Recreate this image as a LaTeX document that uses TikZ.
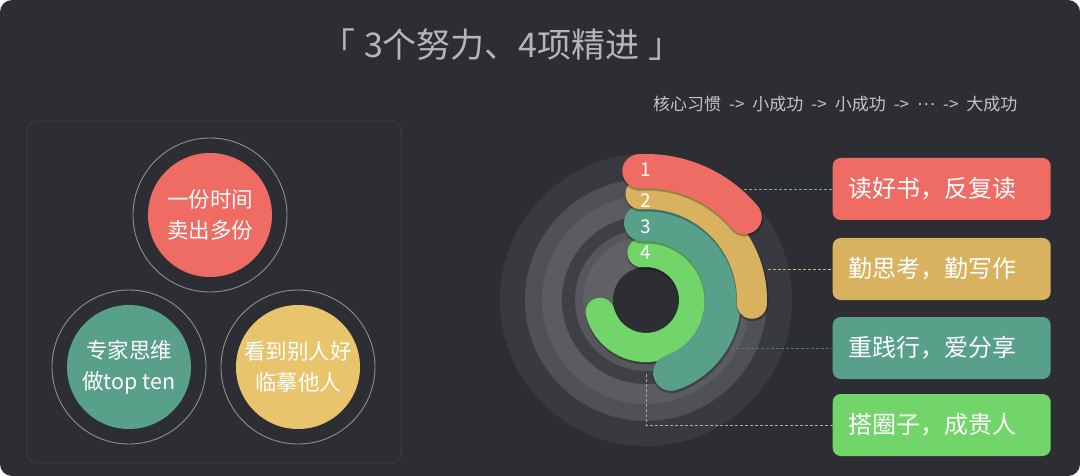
\documentclass[tikz,border=0pt]{standalone}
\usepackage{fontspec}
\setmainfont{Noto Sans CJK SC}
\usetikzlibrary{calc}
\definecolor{bg}{HTML}{2D2E33}
\definecolor{panelline}{HTML}{3F4045}
\definecolor{ringgray}{HTML}{8E8F92}
\definecolor{cRed}{HTML}{EE6C64}
\definecolor{cYelC}{HTML}{E8C46C}
\definecolor{cTeal}{HTML}{58A08A}
\definecolor{cYel}{HTML}{D9B260}
\definecolor{cGreen}{HTML}{72D56A}
\definecolor{gA}{HTML}{393A3F}
\definecolor{gB}{HTML}{505156}
\definecolor{gC}{HTML}{5B5C60}
\definecolor{gD}{HTML}{3F4045}
\definecolor{gE}{HTML}{56575B}
\definecolor{gF}{HTML}{606165}
\definecolor{titlegray}{HTML}{B6B6B6}
\definecolor{subgray}{HTML}{C4C4C4}
\definecolor{lnRed}{HTML}{7FA2BA}
\definecolor{lnYel}{HTML}{C9B27C}
\definecolor{lnTeal}{HTML}{5C6D92}
\definecolor{lnGreen}{HTML}{A3ABA5}
\newcommand\ringband[5]{%
  \draw[line cap=round, line width=#3pt+2pt, black, opacity=0.28]
    ($(C)+(#4:#2)+(0.5,1.5)$) arc[start angle=#4, end angle=#5, radius=#2];
  \draw[line cap=round, line width=#3pt, #1]
    ($(C)+(#4:#2)$) arc[start angle=#4, end angle=#5, radius=#2];}
\begin{document}
\begin{tikzpicture}[x=1pt,y=-1pt,
  lab/.style={text=white, font=\fontsize{21.5}{31}\selectfont, align=center},
  ringo/.style={circle, draw=ringgray, line width=0.9pt, minimum size=154pt, inner sep=0pt},
  disc/.style={circle, minimum size=124pt, inner sep=0pt},
  tag/.style={rounded corners=8pt, minimum height=62pt, text width=187pt,
    inner xsep=15.5pt, inner ysep=0pt, align=left, text=white, font=\fontsize{24}{28}\selectfont},
  conn/.style={dash pattern=on 3pt off 2pt, line width=0.8pt},
  num/.style={text=white, font=\fontsize{19}{20}\selectfont, inner sep=0pt},
]
\useasboundingbox (0,0) rectangle (1080,476);
\fill[white] (0,0) rectangle (1080,476);
\fill[bg, rounded corners=12pt] (0,0) rectangle (1080,476);

% title
\node[text=titlegray, font=\fontsize{34}{37}\selectfont] (title) at (502,45)
  {「\hspace{9pt}3个努力、4项精进\hspace{9pt}」};
\node[text=subgray, font=\fontsize{17}{19}\selectfont, anchor=east] (sub) at (1021,104)
  {\spaceskip=8pt 核心习惯 -{}> 小成功 -{}> 小成功 -{}> \raisebox{0.3em}{…} -{}> 大成功};

% left panel
\draw[panelline, line width=0.8pt, rounded corners=10pt] (27,121) rectangle (401,463);
\node[ringo] (o1) at (210,215) {};
\node[disc, fill=cRed, lab] (c1) at (210,215) {一份时间\\卖出多份};
\node[ringo] (o2) at (129,367) {};
\node[disc, fill=cTeal, lab] (c2) at (129,367) {专家思维\\做top ten};
\node[ringo] (o3) at (298,367) {};
\node[disc, fill=cYelC, lab] (c3) at (298,367) {看到别人好\\临摹他人};

% ring chart
\coordinate (C) at (646,300);
\fill[gA] (C) circle[radius=146];
\fill[gB] (C) circle[radius=121];
\fill[gC] (C) circle[radius=104];
\fill[gD] (C) circle[radius=84];
\fill[gE] (C) circle[radius=71];
\fill[gF] (C) circle[radius=63];
\fill[bg] (C) circle[radius=33];

\ringband{cGreen}{47.5}{29}{-95}{165}
\ringband{cTeal}{77}{36}{-93}{71}
\ringband{cYel}{106}{30}{-93}{2}
\ringband{cRed}{129}{34}{-93}{-40}

\node[num] (n1) at (646,170) {1};
\node[num] (n2) at (646,201) {2};
\node[num] (n3) at (646,227) {3};
\node[num] (n4) at (646,253) {4};

% boxes
\node[tag, fill=cRed] (b1) at (941.7,189) {读好书，反复读};
\node[tag, fill=cYel] (b2) at (941.7,269) {勤思考，勤写作};
\node[tag, fill=cTeal] (b3) at (941.7,348) {重践行，爱分享};
\node[tag, fill=cGreen] (b4) at (941.7,425) {搭圈子，成贵人};

% connectors
\coordinate (p1) at (744,189);
\coordinate (p2) at (768,269);
\coordinate (p3) at (731,348);
\coordinate (p4) at (646,374);
\draw[conn, lnRed] (p1) -- (b1.west);
\draw[conn, lnYel] (p2) -- (b2.west);
\draw[conn, lnTeal] (p3) -- (b3.west);
\draw[conn, lnGreen] (p4) |- (b4.west);
\end{tikzpicture}
\end{document}
